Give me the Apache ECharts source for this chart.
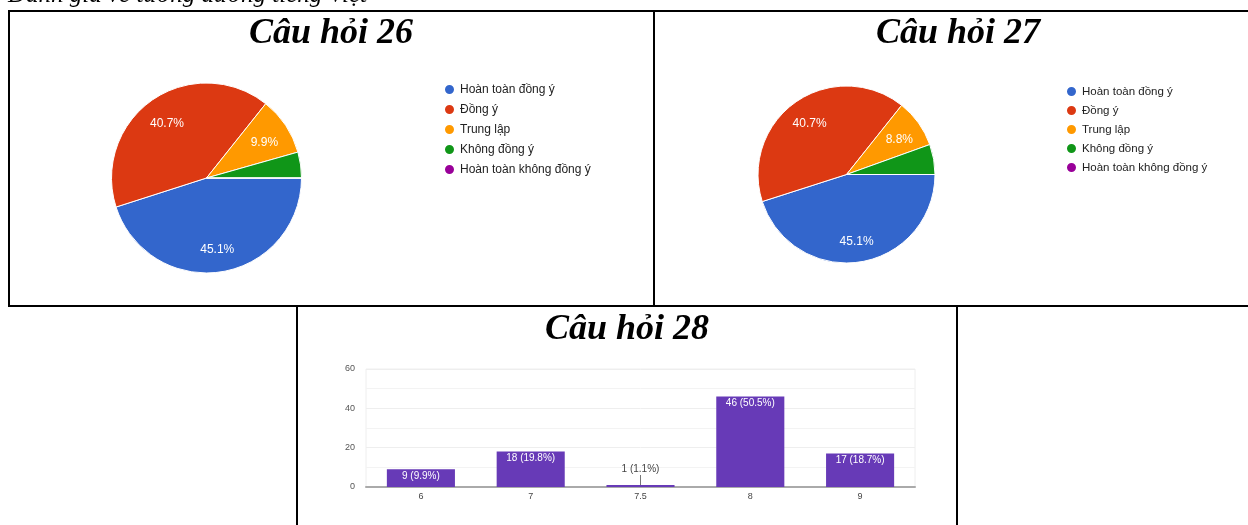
<!DOCTYPE html>
<html>
<head>
<meta charset="utf-8">
<script src="https://cdn.jsdelivr.net/npm/echarts@6/dist/echarts.min.js"></script>
<style>
html,body{margin:0;padding:0;background:#fff;}
#c{width:1248px;height:525px;}
</style>
</head>
<body>
<div id="c"></div>
<script>
const headingText = 'Đánh giá về tương đương tiếng Việt';
const chartTitles = ['Câu hỏi 26', 'Câu hỏi 27', 'Câu hỏi 28'];
const pieNames = ['Hoàn toàn đồng ý', 'Đồng ý', 'Trung lập', 'Không đồng ý', 'Hoàn toàn không đồng ý'];
const pieColors = ['#3366cc', '#dc3912', '#ff9900', '#109618', '#990099'];
const q26Counts = [41, 37, 9, 4, 0];
const q27Counts = [41, 37, 8, 5, 0];
const q28Categories = ['6', '7', '7.5', '8', '9'];
const q28Counts = [9, 18, 1, 46, 17];
const q28YMax = 60;
const q28YInterval = 20;

const FONT = 'Arial, "Liberation Sans", sans-serif';
const SERIF = '"Times New Roman", "Liberation Serif", serif';

function pieData(counts) {
  return pieNames.map((n, i) => ({ name: n, value: counts[i] }));
}
function pctLabel(counts) {
  const total = counts.reduce((a, b) => a + b, 0);
  return function (p) {
    const pct = p.value / total * 100;
    return pct < 6 ? '' : pct.toFixed(1) + '%';
  };
}
const q28Total = q28Counts.reduce((a, b) => a + b, 0);
function barLabel(v) { return v + ' (' + (v / q28Total * 100).toFixed(1) + '%)'; }

function pieSeries(counts, center, r) {
  return [{
    type: 'pie', center: center, radius: [0, r], startAngle: 0, clockwise: true,
    data: pieData(counts), color: pieColors,
    itemStyle: { borderColor: '#fff', borderWidth: 1 },
    label: { show: false }, labelLine: { show: false }, silent: true
  }];
}
function pieLabelSeries(counts, center, r) {
  return {
    type: 'pie', center: center, radius: [0, r * 1.4], startAngle: 0, clockwise: true,
    data: pieData(counts), silent: true, legendHoverLink: false, z: 5,
    itemStyle: { color: 'rgba(0,0,0,0)', borderWidth: 0 },
    label: { show: true, position: 'inner', color: '#fff', fontSize: 12, fontFamily: FONT, formatter: pctLabel(counts) },
    labelLayout: { dy: 3 },
    labelLine: { show: false }
  };
}

const borders = [
  [8, 10, 1240, 2], [8, 10, 2, 297], [653, 10, 2, 297], [8, 305, 1240, 2],
  [296, 305, 2, 220], [956, 305, 2, 220]
].map(b => ({ type: 'rect', shape: { x: b[0], y: b[1], width: b[2], height: b[3] }, style: { fill: '#000' }, z: 100 }));

const titleEls = [
  [331, 34, chartTitles[0]], [958, 34, chartTitles[1]], [627, 330, chartTitles[2]]
].map(t => ({ type: 'text', x: t[0], y: t[1], style: { text: t[2], font: 'italic bold 36px ' + SERIF, fill: '#000', align: 'center', verticalAlign: 'middle' }, z: 100 }));

const chart = echarts.init(document.getElementById('c'), null, { renderer: 'canvas' });
chart.setOption({
  animation: false,
  backgroundColor: '#fff',
  graphic: [
    { type: 'text', x: 8, y: 8, style: { text: headingText, font: 'italic 25px ' + SERIF, fill: '#000', align: 'left', verticalAlign: 'bottom' }, z: 100 }
  ].concat(borders, titleEls),
  legend: [
    { orient: 'vertical', left: 438, top: 78, icon: 'circle', itemWidth: 11, itemHeight: 11, itemGap: 7,
      data: pieNames, selectedMode: false, textStyle: { fontSize: 12, color: '#222', fontFamily: FONT } },
    { orient: 'vertical', left: 1060, top: 80, icon: 'circle', itemWidth: 11, itemHeight: 11, itemGap: 6,
      data: pieNames, selectedMode: false, textStyle: { fontSize: 11.5, color: '#222', fontFamily: FONT } }
  ],
  grid: { left: 366, right: 333, top: 369, bottom: 38, show: true, borderColor: '#eee', borderWidth: 1 },
  xAxis: {
    type: 'category', data: q28Categories,
    axisLine: { lineStyle: { color: '#aaa', width: 2 } }, axisTick: { show: false },
    axisLabel: { fontSize: 9, color: '#444', fontFamily: FONT, margin: 5 }
  },
  yAxis: {
    type: 'value', min: 0, max: q28YMax, interval: q28YInterval,
    axisLine: { show: false }, axisTick: { show: false },
    axisLabel: { fontSize: 9, color: '#555', fontFamily: FONT, margin: 11 },
    splitLine: { lineStyle: { color: '#eee' } },
    minorTick: { show: false, splitNumber: 2 },
    minorSplitLine: { show: true, lineStyle: { color: '#f3f3f3' } }
  },
  series: [].concat(
    pieSeries(q26Counts, [206.5, 178], 95),
    pieSeries(q27Counts, [846.5, 174.5], 88.5),
    [pieLabelSeries(q26Counts, [206.5, 178], 95), pieLabelSeries(q27Counts, [846.5, 174.5], 88.5),
    {
      type: 'bar', data: q28Counts.map(v => v < 3 ? {
        value: v,
        label: { position: 'top', distance: 0, color: '#444', formatter: p => '{t|' + barLabel(p.value) + '}\n{l| }',
          rich: { t: { fontSize: 10, color: '#444', fontFamily: FONT, align: 'center', lineHeight: 11 },
                  l: { width: 1, height: 10, backgroundColor: '#777', align: 'center', lineHeight: 10, fontSize: 1 } } }
      } : v),
      barCategoryGap: '38%', itemStyle: { color: '#673ab7' },
      label: { show: true, position: 'insideTop', distance: 2, color: '#fff', fontSize: 10, fontFamily: FONT,
        formatter: p => barLabel(p.value) }
    }])
});
</script>
</body>
</html>
